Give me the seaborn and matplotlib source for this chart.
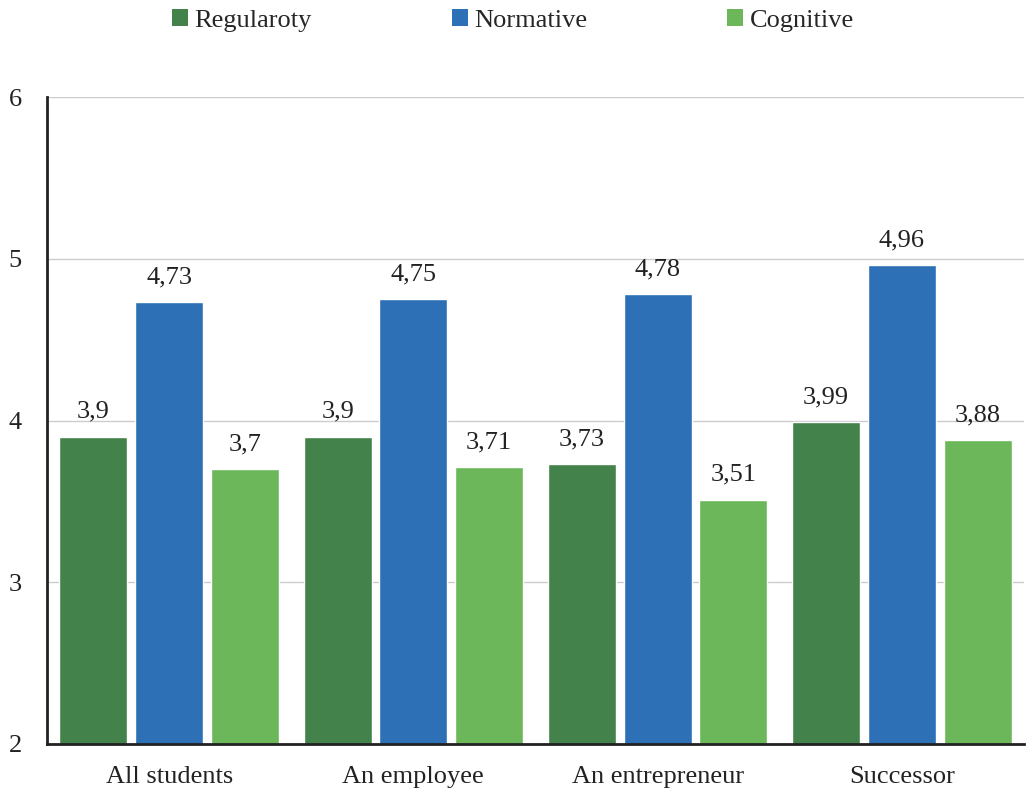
import matplotlib
matplotlib.use("Agg")
import matplotlib.pyplot as plt
import seaborn as sns
import pandas as pd
from matplotlib.patches import Patch

categories = ["All students", "An employee", "An entrepreneur", "Successor"]
series = ["Regularoty", "Normative", "Cognitive"]
regularoty = [3.9, 3.9, 3.73, 3.99]
normative = [4.73, 4.75, 4.78, 4.96]
cognitive = [3.7, 3.71, 3.51, 3.88]
yticks = [2, 3, 4, 5, 6]

colors = ["#43834B", "#2E70B6", "#6BB75A"]

rows = []
for s, vals in zip(series, [regularoty, normative, cognitive]):
    for c, v in zip(categories, vals):
        rows.append({"cat": c, "series": s, "value": v})
df = pd.DataFrame(rows)

sns.set_theme(style="white")
plt.rcParams["font.family"] = ["Liberation Serif", "DejaVu Serif"]

fs = 19
fig = plt.figure(figsize=(10.26, 7.92), dpi=100)
ax = fig.add_axes([47/1026, 1-744/792, (1024-47)/1026, (744-97)/792])

sns.barplot(data=df, x="cat", y="value", hue="series", order=categories,
            hue_order=series, palette=colors, width=0.93, gap=0.1,
            saturation=1, errorbar=None, ax=ax, legend=False, zorder=2)

ax.set_ylim(2, 6)
ax.set_yticks(yticks)
ax.set_yticklabels([str(t) for t in yticks], fontsize=fs, color="#222222")
ax.tick_params(axis="x", labelsize=fs, colors="#222222", pad=16, length=0)
ax.tick_params(axis="y", pad=18, length=0)
ax.set_xlabel("")
ax.set_ylabel("")
ax.set_xlim(-0.5, 3.5)
ax.yaxis.grid(True, color="#cccccc", linewidth=1, zorder=0)
ax.set_axisbelow(True)
for side in ["top", "right"]:
    ax.spines[side].set_visible(False)
for side in ["left", "bottom"]:
    ax.spines[side].set_color("#222222")
    ax.spines[side].set_linewidth(2)

for cont in ax.containers:
    labels = [f"{v:g}".replace(".", ",") for v in cont.datavalues]
    ax.bar_label(cont, labels=labels, fontsize=fs, color="#222222", padding=10)

handles = [Patch(facecolor=c, edgecolor="none") for c in colors]
fig.legend(handles, series, loc="upper center", bbox_to_anchor=(0.5, 1.018),
           ncol=3, frameon=False, fontsize=fs, handlelength=0.6,
           handleheight=0.6, handletextpad=0.25, columnspacing=5.3)

fig.savefig("out.png", dpi=100)
